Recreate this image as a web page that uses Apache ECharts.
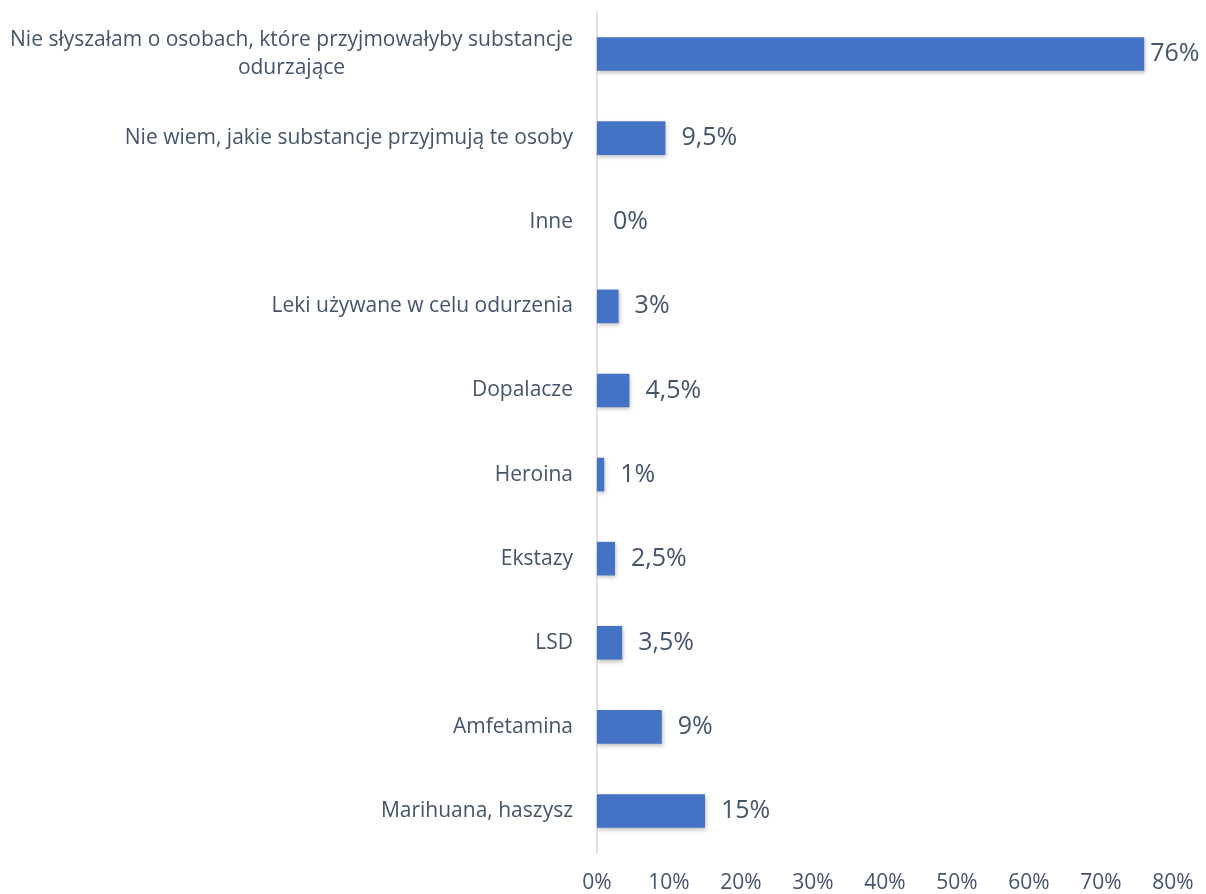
<!DOCTYPE html>
<html>
<head>
<meta charset="utf-8">
<script src="https://cdn.jsdelivr.net/npm/echarts@6/dist/echarts.min.js"></script>
<style>html,body{margin:0;padding:0;background:#fff}#c{width:1206px;height:894px}</style>
</head>
<body>
<div id="c"></div>
<script>
const categories = [
  'Marihuana, haszysz',
  'Amfetamina',
  'LSD',
  'Ekstazy',
  'Heroina',
  'Dopalacze',
  'Leki używane w celu odurzenia',
  'Inne',
  'Nie wiem, jakie substancje przyjmują te osoby',
  'Nie słyszałam o osobach, które przyjmowałyby substancje\nodurzające'
];
const values = [15, 9, 3.5, 2.5, 1, 4.5, 3, 0, 9.5, 76];
const xTicks = [0, 10, 20, 30, 40, 50, 60, 70, 80];

const chart = echarts.init(document.getElementById('c'), null, {renderer: 'canvas'});
const font = '"Open Sans", "Noto Sans", sans-serif';
const xMax = xTicks[xTicks.length - 1];
chart.setOption({
  animation: false,
  grid: {left: 597, right: 33, top: 12, bottom: 40},
  xAxis: {
    type: 'value',
    min: xTicks[0], max: xMax, interval: 10,
    axisLine: {show: false}, axisTick: {show: false},
    splitLine: {show: false},
    axisLabel: {formatter: v => v + '%', color: '#44546A', fontSize: 21, fontFamily: font, margin: 20}
  },
  yAxis: {
    type: 'category',
    data: categories,
    axisLine: {show: true, lineStyle: {color: '#D9D9D9', width: 1.5}},
    axisTick: {show: false},
    axisLabel: {
      color: '#44546A', fontSize: 21, fontFamily: font, margin: 24,
      formatter: v => v.split('\n').map(s => '{a|' + s + '}').join('\n'),
      rich: {a: {align: 'center', color: '#44546A', fontSize: 21, fontFamily: font, lineHeight: 28}}
    }
  },
  series: [{
    type: 'bar',
    data: values.map(v => v > xMax * 0.85 ? {value: v, label: {distance: 6}} : v),
    barWidth: '40%',
    itemStyle: {color: '#4472C4', shadowColor: 'rgba(0,0,0,0.25)', shadowBlur: 4, shadowOffsetX: 1, shadowOffsetY: 2},
    label: {
      show: true, position: 'right', distance: 16,
      color: '#44546A', fontSize: 25, fontFamily: font,
      formatter: p => String(p.value).replace('.', ',') + '%'
    }
  }]
});
</script>
</body>
</html>
